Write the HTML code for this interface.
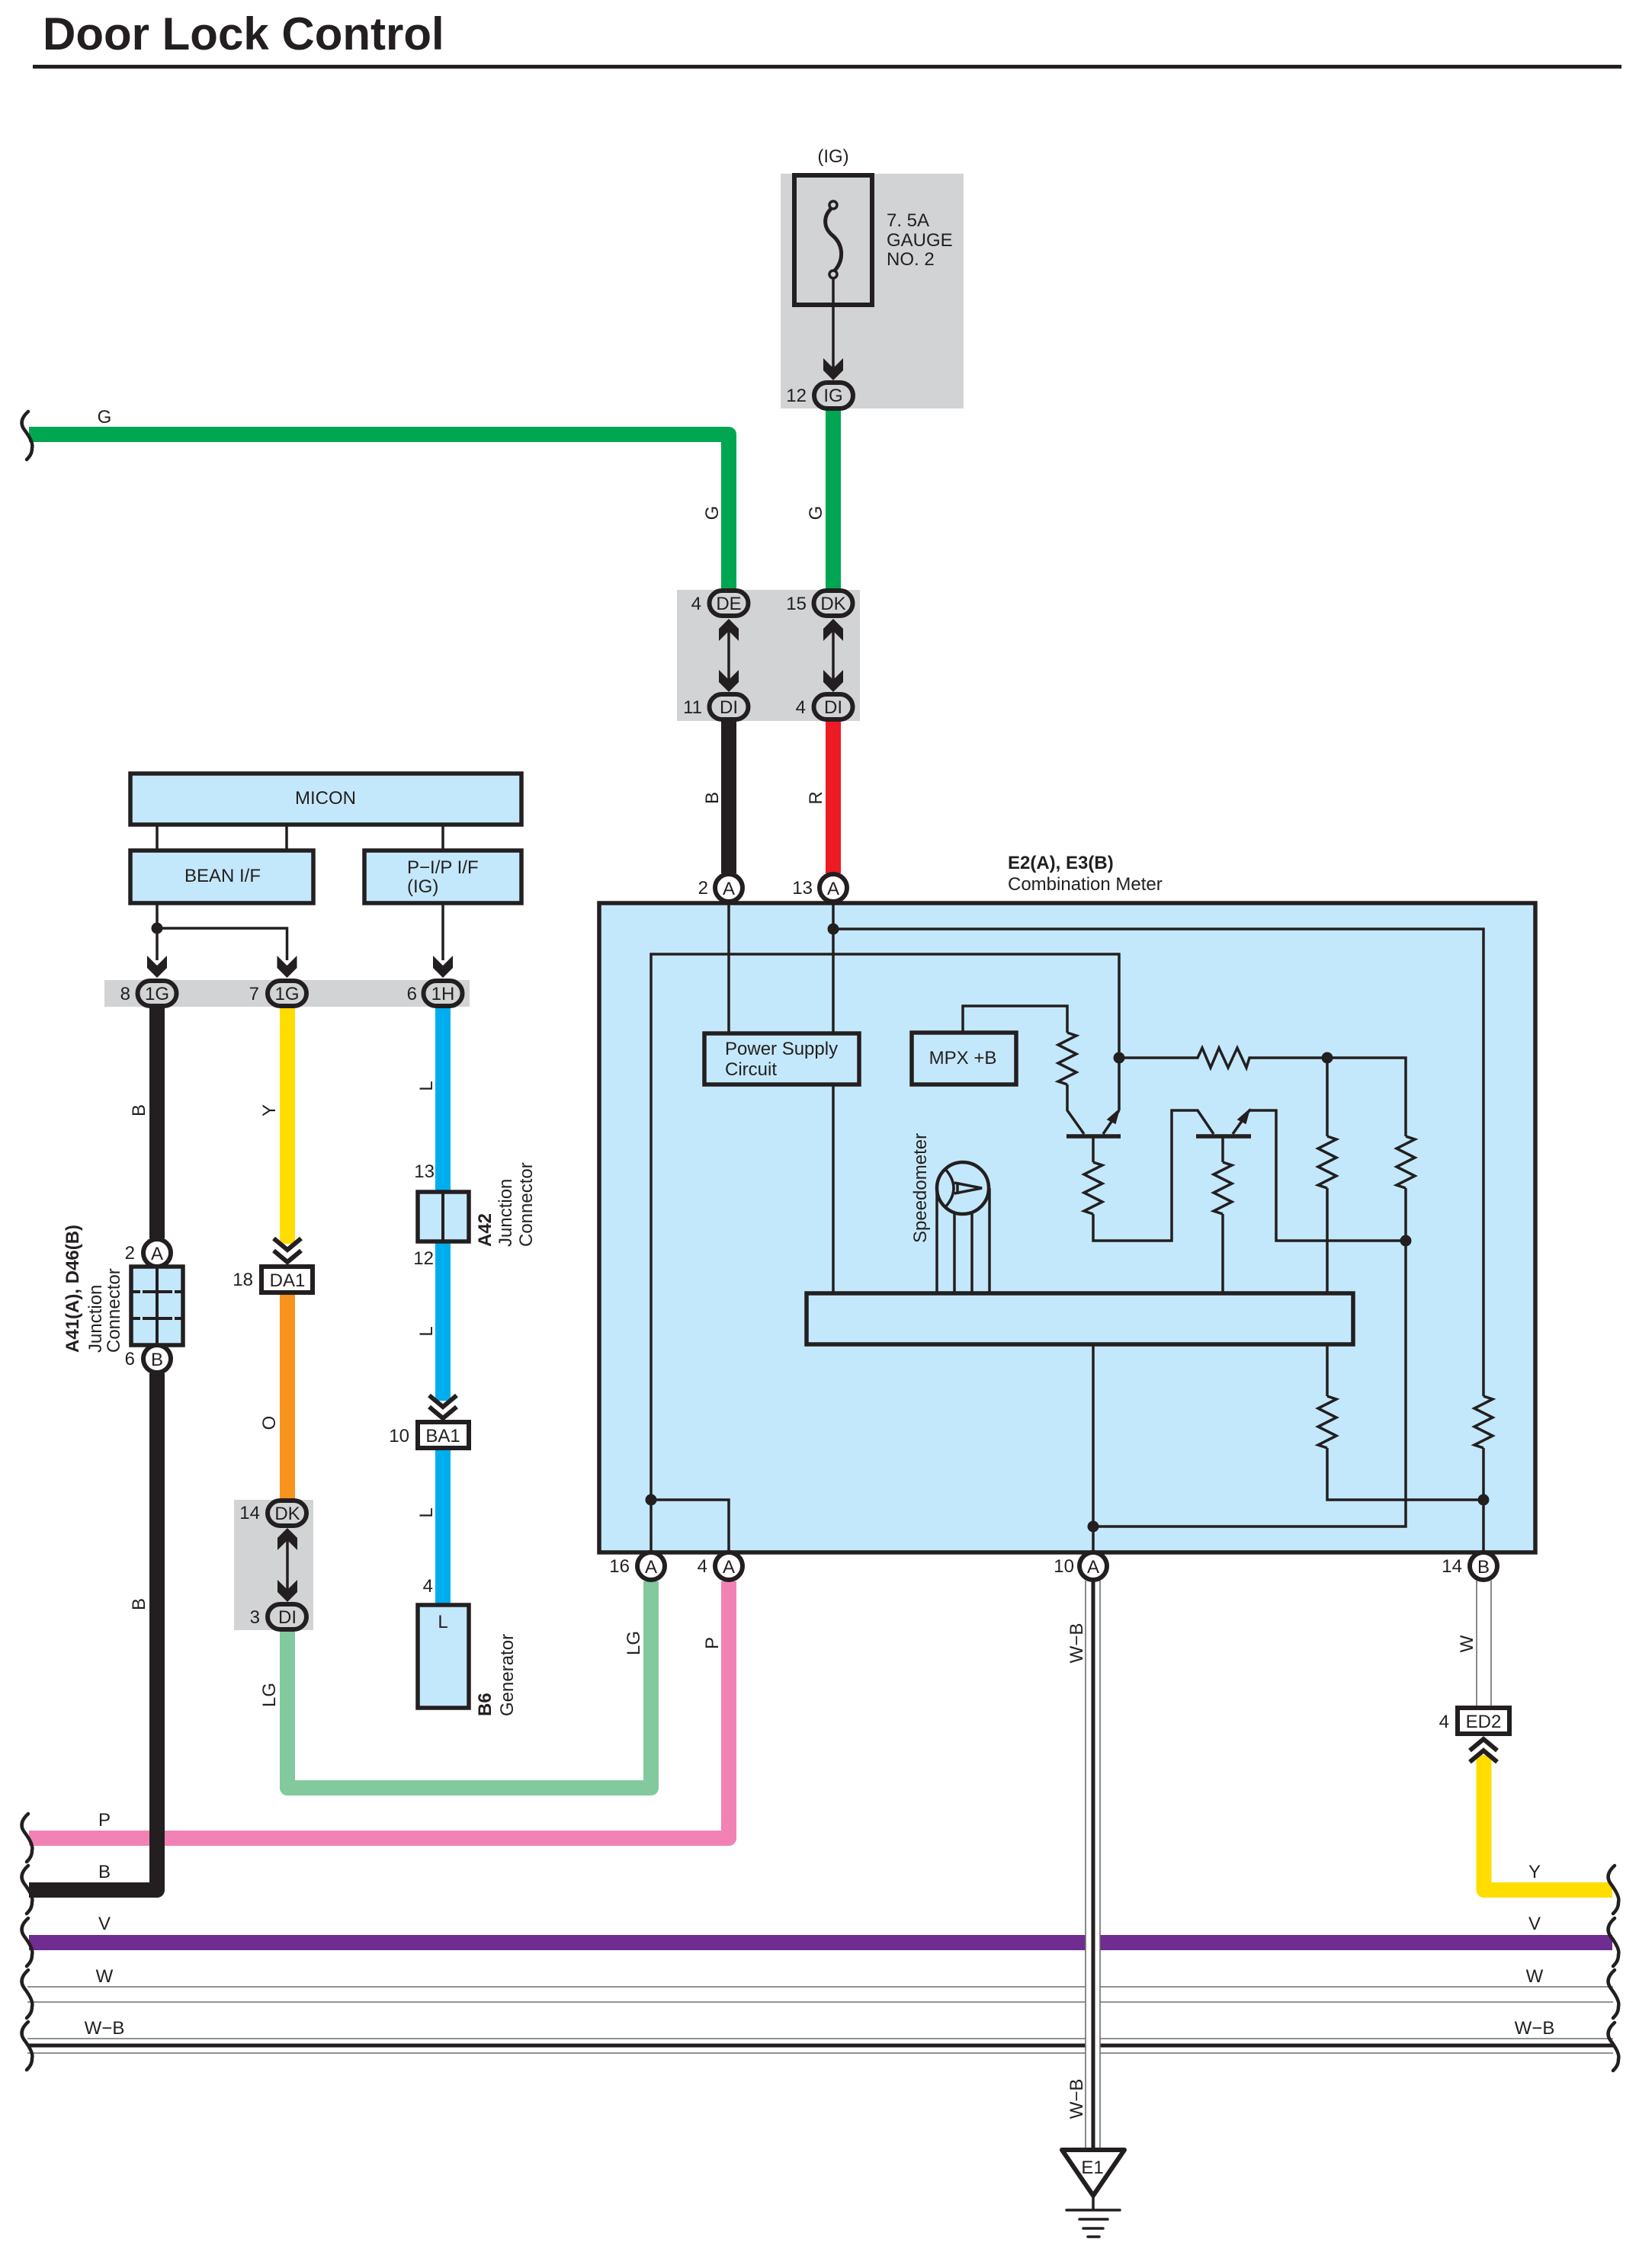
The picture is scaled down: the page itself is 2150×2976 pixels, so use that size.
<!DOCTYPE html>
<html lang="en">
<head>
<meta charset="utf-8">
<title>Door Lock Control</title>
<style>
html,body{margin:0;padding:0;background:#fff;width:2150px;height:2976px;overflow:hidden}
svg{display:block}
text{font-family:"Liberation Sans",sans-serif;font-size:24px;fill:#231f20}
.b{font-weight:bold}
.m{text-anchor:middle}
.e{text-anchor:end}
.w{fill:none;stroke-linejoin:round;stroke-width:20}
.l{fill:none;stroke:#231f20;stroke-width:3.5;stroke-linejoin:miter}
.box{fill:#c4e8fb;stroke:#231f20;stroke-width:5.5}
.wb{fill:#fff;stroke:#231f20;stroke-width:6}
.ov{fill:#d1d3d4;stroke:#231f20;stroke-width:6}
.ci{fill:#fff;stroke:#231f20;stroke-width:6}
.th{stroke:#6d6e71;stroke-width:1.6;fill:none}
.br{fill:none;stroke:#231f20;stroke-width:4.5;stroke-linecap:round}
.ch{fill:none;stroke:#231f20;stroke-width:6}
</style>
</head>
<body>
<svg xmlns="http://www.w3.org/2000/svg" width="2150" height="2976" viewBox="0 0 2150 2976">
<defs>
<path id="ar" d="M-13,-29 L0,-16 L13,-29 L13,-13 L0,0 L-13,-13 Z" fill="#231f20"/>
<path id="rs" d="M0,0 L12,4 L-12,16 L12,28 L-12,40 L12,52 L-12,64 L0,68" fill="none" stroke="#231f20" stroke-width="3.5"/>
<path id="bc" d="M37,0 C28,8 26,16 32,24 S44,42 42,48 C42,54 40,58 35,63" class="br"/>
</defs>

<!-- title -->
<text x="56" y="65" class="b" style="font-size:60px">Door Lock Control</text>
<rect x="43" y="85" width="2084" height="5" fill="#231f20"/>

<!-- gray zones -->
<rect x="1024" y="228" width="240" height="308" fill="#d1d3d4"/>
<rect x="888" y="774" width="240" height="172" fill="#d1d3d4"/>
<rect x="137" y="1286" width="479" height="35" fill="#d1d3d4"/>
<rect x="307" y="1968" width="104" height="171" fill="#d1d3d4"/>

<!-- meter box -->
<rect x="786" y="1185" width="1228" height="852" class="box"/>

<!-- bus wires -->
<path class="w" stroke="#f282b4" d="M38,2412 H956 V2075"/>
<path class="w" stroke="#6f2c91" d="M38,2549 H2115"/>
<path class="th" d="M36,2607 H2116 M36,2627 H2116 M36,2675 H2116 M36,2694 H2116"/>
<path d="M36,2684 H2116" stroke="#231f20" stroke-width="5" fill="none"/>
<path class="w" stroke="#231f20" d="M38,2480 H206 V1802"/>
<path class="w" stroke="#231f20" d="M206,1625 V1320"/>
<path class="w" stroke="#00a651" d="M38,570 H956 V775"/>
<path class="w" stroke="#00a651" d="M1093,538 V775"/>
<path class="w" stroke="#231f20" d="M956,945 V1146"/>
<path class="w" stroke="#ed1c24" d="M1093,945 V1146"/>
<path class="w" stroke="#ffdd00" d="M377,1320 V1632"/>
<path class="w" stroke="#f7941d" d="M377,1698 V1970"/>
<path class="w" stroke="#82c99d" d="M377,2138 V2346 H854 V2075"/>
<path class="w" stroke="#00aeef" d="M581,1320 V1565"/>
<path class="w" stroke="#00aeef" d="M581,1628 V1838"/>
<path class="w" stroke="#00aeef" d="M581,1902 V2105"/>
<path class="w" stroke="#ffdd00" d="M1946.5,2303 V2480 H2115"/>

<!-- W-B vertical -->
<rect x="1424" y="2074" width="19" height="748" fill="#fff"/>
<path class="th" d="M1424,2074 V2822 M1443,2074 V2822"/>
<path d="M1434,2074 V2822" stroke="#231f20" stroke-width="5" fill="none"/>
<!-- W vertical -->
<path class="th" d="M1937,2074 V2240 M1956,2074 V2240"/>

<!-- braces -->
<use href="#bc" transform="translate(0,540)"/>
<use href="#bc" transform="translate(0,2380)"/>
<use href="#bc" transform="translate(0,2448)"/>
<use href="#bc" transform="translate(0,2517)"/>
<use href="#bc" transform="translate(0,2585)"/>
<use href="#bc" transform="translate(0,2653)"/>
<use href="#bc" transform="translate(2081,2448)"/>
<use href="#bc" transform="translate(2081,2517)"/>
<use href="#bc" transform="translate(2081,2585)"/>
<use href="#bc" transform="translate(2081,2654)"/>

<!-- fuse -->
<text x="1093" y="213" class="m">(IG)</text>
<rect x="1042" y="230" width="102" height="170" fill="none" stroke="#231f20" stroke-width="6"/>
<circle cx="1093" cy="269" r="5" fill="none" stroke="#231f20" stroke-width="3.5"/>
<circle cx="1093" cy="360" r="5" fill="none" stroke="#231f20" stroke-width="3.5"/>
<path d="M1090,274 C1080,284 1080,298 1091,308 C1106,320 1108,340 1095,355" fill="none" stroke="#231f20" stroke-width="5"/>
<path class="l" d="M1093,366 V490"/>
<use href="#ar" x="1093" y="499"/>
<text x="1163" y="297">7. 5A</text>
<text x="1163" y="323">GAUGE</text>
<text x="1163" y="348">NO. 2</text>
<rect x="1068" y="502" width="51" height="34" rx="17" class="ov"/>
<text x="1093" y="527" class="m">IG</text>
<text x="1058" y="527" class="e">12</text>

<!-- connectors DE DK DI DI -->
<path class="l" d="M956,820 V900 M1093,820 V900"/>
<use href="#ar" transform="translate(956,812) rotate(180)"/>
<use href="#ar" transform="translate(1093,812) rotate(180)"/>
<use href="#ar" x="956" y="908"/>
<use href="#ar" x="1093" y="908"/>
<rect x="930.500" y="775" width="51" height="33" rx="16.5" class="ov"/>
<rect x="1067.500" y="775" width="51" height="33" rx="16.5" class="ov"/>
<rect x="930.500" y="911" width="51" height="33" rx="16.500" class="ov"/>
<rect x="1067.500" y="911" width="51" height="33" rx="16.500" class="ov"/>
<text x="956" y="800" class="m">DE</text>
<text x="1093" y="800" class="m">DK</text>
<text x="956" y="936" class="m">DI</text>
<text x="1093" y="936" class="m">DI</text>
<text x="920" y="800" class="e">4</text>
<text x="1058" y="800" class="e">15</text>
<text x="921" y="936" class="e">11</text>
<text x="1057" y="936" class="e">4</text>

<!-- wire labels top -->
<text x="137" y="555" class="m">G</text>
<text transform="translate(942,673) rotate(-90)" class="m">G</text>
<text transform="translate(1078,673) rotate(-90)" class="m">G</text>
<text transform="translate(942,1047) rotate(-90)" class="m">B</text>
<text transform="translate(1078,1047) rotate(-90)" class="m">R</text>

<!-- meter pins top -->
<circle cx="956" cy="1165" r="18" class="ci"/>
<circle cx="1093" cy="1165" r="18" class="ci"/>
<text x="956" y="1174" class="m">A</text>
<text x="1093" y="1174" class="m">A</text>
<text x="929" y="1173" class="e">2</text>
<text x="1066" y="1173" class="e">13</text>
<text x="1322" y="1140" class="b">E2(A), E3(B)</text>
<text x="1322" y="1168">Combination Meter</text>

<!-- MICON block -->
<rect x="171" y="1015" width="513" height="67" class="box"/>
<rect x="171" y="1116" width="240" height="69" class="box"/>
<rect x="478" y="1116" width="206" height="69" class="box"/>
<text x="427" y="1055" class="m">MICON</text>
<text x="292" y="1157" class="m">BEAN I/F</text>
<text x="534" y="1146">P−I/P I/F</text>
<text x="534" y="1171">(IG)</text>
<path class="l" d="M206,1084 V1114 M376,1084 V1114 M581,1084 V1114"/>
<path class="l" d="M206,1187 V1260 M206,1218 H376.500 V1260 M581,1187 V1260"/>
<circle cx="206" cy="1218" r="7.500" fill="#231f20"/>
<use href="#ar" x="206" y="1283"/>
<use href="#ar" x="376.500" y="1283"/>
<use href="#ar" x="581" y="1283"/>
<rect x="180.500" y="1287" width="51" height="33" rx="16.5" class="ov"/>
<rect x="351" y="1287" width="51" height="33" rx="16.5" class="ov"/>
<rect x="555.500" y="1287" width="51" height="33" rx="16.5" class="ov"/>
<text x="206" y="1312" class="m">1G</text>
<text x="376.500" y="1312" class="m">1G</text>
<text x="581" y="1312" class="m">1H</text>
<text x="171" y="1312" class="e">8</text>
<text x="340" y="1312" class="e">7</text>
<text x="547" y="1312" class="e">6</text>

<!-- left column labels -->
<text transform="translate(190,1457) rotate(-90)" class="m">B</text>
<text transform="translate(190,2105) rotate(-90)" class="m">B</text>
<text transform="translate(361,1457) rotate(-90)" class="m">Y</text>
<text transform="translate(361,1867) rotate(-90)" class="m">O</text>
<text transform="translate(361,2224) rotate(-90)" class="m">LG</text>
<text transform="translate(567,1425) rotate(-90)" class="m">L</text>
<text transform="translate(567,1747) rotate(-90)" class="m">L</text>
<text transform="translate(567,1985) rotate(-90)" class="m">L</text>
<text transform="translate(839,2156) rotate(-90)" class="m">LG</text>
<text transform="translate(942,2156) rotate(-90)" class="m">P</text>

<!-- A41 junction -->
<circle cx="206" cy="1644" r="18" class="ci"/>
<circle cx="206" cy="1783" r="18" class="ci"/>
<rect x="172" y="1662" width="68" height="103" class="box"/>
<path d="M206,1662 V1765" stroke="#231f20" stroke-width="4" fill="none"/>
<path d="M172,1695 H240 M172,1730 H240" stroke="#231f20" stroke-width="4" stroke-dasharray="12 3 18 3 18 3 12" fill="none"/>
<text x="206" y="1653" class="m">A</text>
<text x="206" y="1792" class="m">B</text>
<text x="177" y="1652" class="e">2</text>
<text x="177" y="1791" class="e">6</text>
<text transform="translate(103,1775) rotate(-90)" class="b">A41(A), D46(B)</text>
<text transform="translate(133,1775) rotate(-90)">Junction</text>
<text transform="translate(157,1775) rotate(-90)">Connector</text>

<!-- DA1 -->
<path class="ch" d="M359,1625 L377,1640 L395,1625 M359,1641 L377,1656 L395,1641"/>
<rect x="343" y="1662" width="67" height="34" class="wb"/>
<text x="377" y="1688" class="m">DA1</text>
<text x="332" y="1687" class="e">18</text>

<!-- DK/DI left -->
<path class="l" d="M377,2012 V2094"/>
<use href="#ar" transform="translate(377,2005) rotate(180)"/>
<use href="#ar" x="377" y="2102"/>
<rect x="351" y="1969" width="51" height="33" rx="16.5" class="ov"/>
<rect x="351" y="2105" width="51" height="33" rx="16.5" class="ov"/>
<text x="377" y="1994" class="m">DK</text>
<text x="377" y="2130" class="m">DI</text>
<text x="341" y="1993" class="e">14</text>
<text x="341" y="2130" class="e">3</text>

<!-- A42 -->
<rect x="548" y="1564" width="67" height="65" class="box"/>
<path d="M581,1564 V1629" stroke="#231f20" stroke-width="4" fill="none"/>
<text x="570" y="1545" class="e">13</text>
<text x="569" y="1659" class="e">12</text>
<text transform="translate(644,1636) rotate(-90)" class="b">A42</text>
<text transform="translate(671,1636) rotate(-90)">Junction</text>
<text transform="translate(698,1636) rotate(-90)">Connector</text>

<!-- BA1 -->
<path class="ch" d="M563,1831 L581,1846 L599,1831 M563,1846 L581,1861 L599,1846"/>
<rect x="548" y="1866" width="67" height="34" class="wb"/>
<text x="581" y="1892" class="m">BA1</text>
<text x="537" y="1892" class="e">10</text>
<text x="568" y="2089" class="e">4</text>

<!-- Generator -->
<rect x="548" y="2106" width="67" height="135" class="box"/>
<text x="581" y="2136" class="m">L</text>
<text transform="translate(644,2252) rotate(-90)" class="b">B6</text>
<text transform="translate(673,2252) rotate(-90)">Generator</text>

<!-- inner meter wiring -->
<path class="l" d="M956,1185 V1355 M1093,1185 V1355 M1093,1425 V1696"/>
<path class="l" d="M1093,1219 H1946 V1832 M1946,1900 V2037"/>
<path class="l" d="M854,2037 V1252 H1468 V1457"/>
<path class="l" d="M854,1968 H956 V2037"/>
<path class="l" d="M1263,1353 V1320 H1400 V1355 M1400,1423 V1457 L1422,1488"/>
<path class="l" d="M1468,1388 H1571 L1577,1375 L1588,1401 L1599,1375 L1611,1401 L1623,1375 L1635,1401 L1639,1388 H1844 V1491 M1844,1559 V2003 H1434"/>
<path class="l" d="M1434,1491 V1525 M1434,1593 V1628 H1537 V1457 H1571 L1592,1488"/>
<path class="l" d="M1447,1488 L1468,1457"/>
<path class="l" d="M1617,1488 L1639,1457 H1674 V1628 H1844"/>
<path class="l" d="M1604,1491 V1525 M1604,1593 V1696"/>
<path class="l" d="M1741,1388 V1491 M1741,1559 V1696 M1741,1764 V1832 M1741,1900 V1968 H1946"/>
<path class="l" d="M1434,1764 V2037"/>
<path d="M1399,1491 H1470 M1569,1491 H1641" stroke="#231f20" stroke-width="5.500" fill="none"/>
<path d="M1468,1456 L1453,1469 L1463,1474 Z M1639,1456 L1624,1469 L1634,1474 Z" fill="#231f20" stroke="#231f20" stroke-width="1.5"/>
<use href="#rs" x="1400" y="1355"/>
<use href="#rs" x="1434" y="1525"/>
<use href="#rs" x="1604" y="1525"/>
<use href="#rs" x="1741" y="1491"/>
<use href="#rs" x="1844" y="1491"/>
<use href="#rs" x="1741" y="1832"/>
<use href="#rs" x="1946" y="1832"/>
<g fill="#231f20">
<circle cx="1093" cy="1219" r="7.500"/>
<circle cx="1468" cy="1388" r="7.500"/>
<circle cx="1741" cy="1388" r="7.500"/>
<circle cx="1844" cy="1628" r="7.500"/>
<circle cx="854" cy="1968" r="7.500"/>
<circle cx="1946" cy="1968" r="7.500"/>
<circle cx="1434" cy="2003" r="7.500"/>
</g>

<!-- power supply, MPX, bar -->
<rect x="924" y="1356" width="203" height="67" class="box"/>
<text x="951" y="1384">Power Supply</text>
<text x="951" y="1411">Circuit</text>
<rect x="1196" y="1355" width="137" height="68" class="box"/>
<text x="1263" y="1396" class="m">MPX +B</text>
<rect x="1058" y="1697" width="717" height="67" class="box"/>

<!-- speedometer -->
<path class="l" d="M1229,1559 V1696 M1252,1590 V1696 M1275,1590 V1696 M1298,1559 V1696"/>
<circle cx="1263" cy="1559" r="34" fill="#c4e8fb" stroke="#231f20" stroke-width="4.500"/>
<path class="l" d="M1240,1534 Q1262,1559 1240,1584 M1252,1552 L1288,1559 L1252,1566 M1256,1551 V1567"/>
<text transform="translate(1215,1631) rotate(-90)">Speedometer</text>

<!-- meter pins bottom -->
<circle cx="854" cy="2055" r="18" class="ci"/>
<circle cx="956" cy="2055" r="18" class="ci"/>
<circle cx="1434" cy="2055" r="18" class="ci"/>
<circle cx="1946" cy="2055" r="18" class="ci"/>
<text x="854" y="2064" class="m">A</text>
<text x="956" y="2064" class="m">A</text>
<text x="1434" y="2064" class="m">A</text>
<text x="1946" y="2064" class="m">B</text>
<text x="826" y="2063" class="e">16</text>
<text x="928" y="2063" class="e">4</text>
<text x="1409" y="2063" class="e">10</text>
<text x="1918" y="2063" class="e">14</text>
<text transform="translate(1420,2156) rotate(-90)" class="m">W−B</text>
<text transform="translate(1932,2157) rotate(-90)" class="m">W</text>

<!-- ED2 -->
<rect x="1912" y="2241" width="68" height="34" class="wb"/>
<text x="1946" y="2267" class="m">ED2</text>
<text x="1901" y="2267" class="e">4</text>
<path class="ch" d="M1928,2297 L1946,2282 L1964,2297 M1928,2312 L1946,2297 L1964,2312"/>

<!-- ground -->
<text transform="translate(1420,2754) rotate(-90)" class="m">W−B</text>
<path d="M1393,2821 H1475 L1434,2881 Z" fill="#fff" stroke="#231f20" stroke-width="6" stroke-linejoin="round"/>
<text x="1433" y="2852" class="m">E1</text>
<path d="M1434,2881 V2900" stroke="#231f20" stroke-width="3.500" fill="none"/>
<path d="M1399,2900 H1469 M1416,2912 H1453 M1421,2924 H1447 M1427,2935 H1442" stroke="#231f20" stroke-width="3.500" stroke-linecap="round" fill="none"/>

<!-- bus labels -->
<text x="137" y="2396" class="m">P</text>
<text x="137" y="2464" class="m">B</text>
<text x="137" y="2532" class="m">V</text>
<text x="137" y="2601" class="m">W</text>
<text x="137" y="2669" class="m">W−B</text>
<text x="2013" y="2464" class="m">Y</text>
<text x="2013" y="2532" class="m">V</text>
<text x="2013" y="2601" class="m">W</text>
<text x="2013" y="2669" class="m">W−B</text>
</svg>
</body>
</html>
